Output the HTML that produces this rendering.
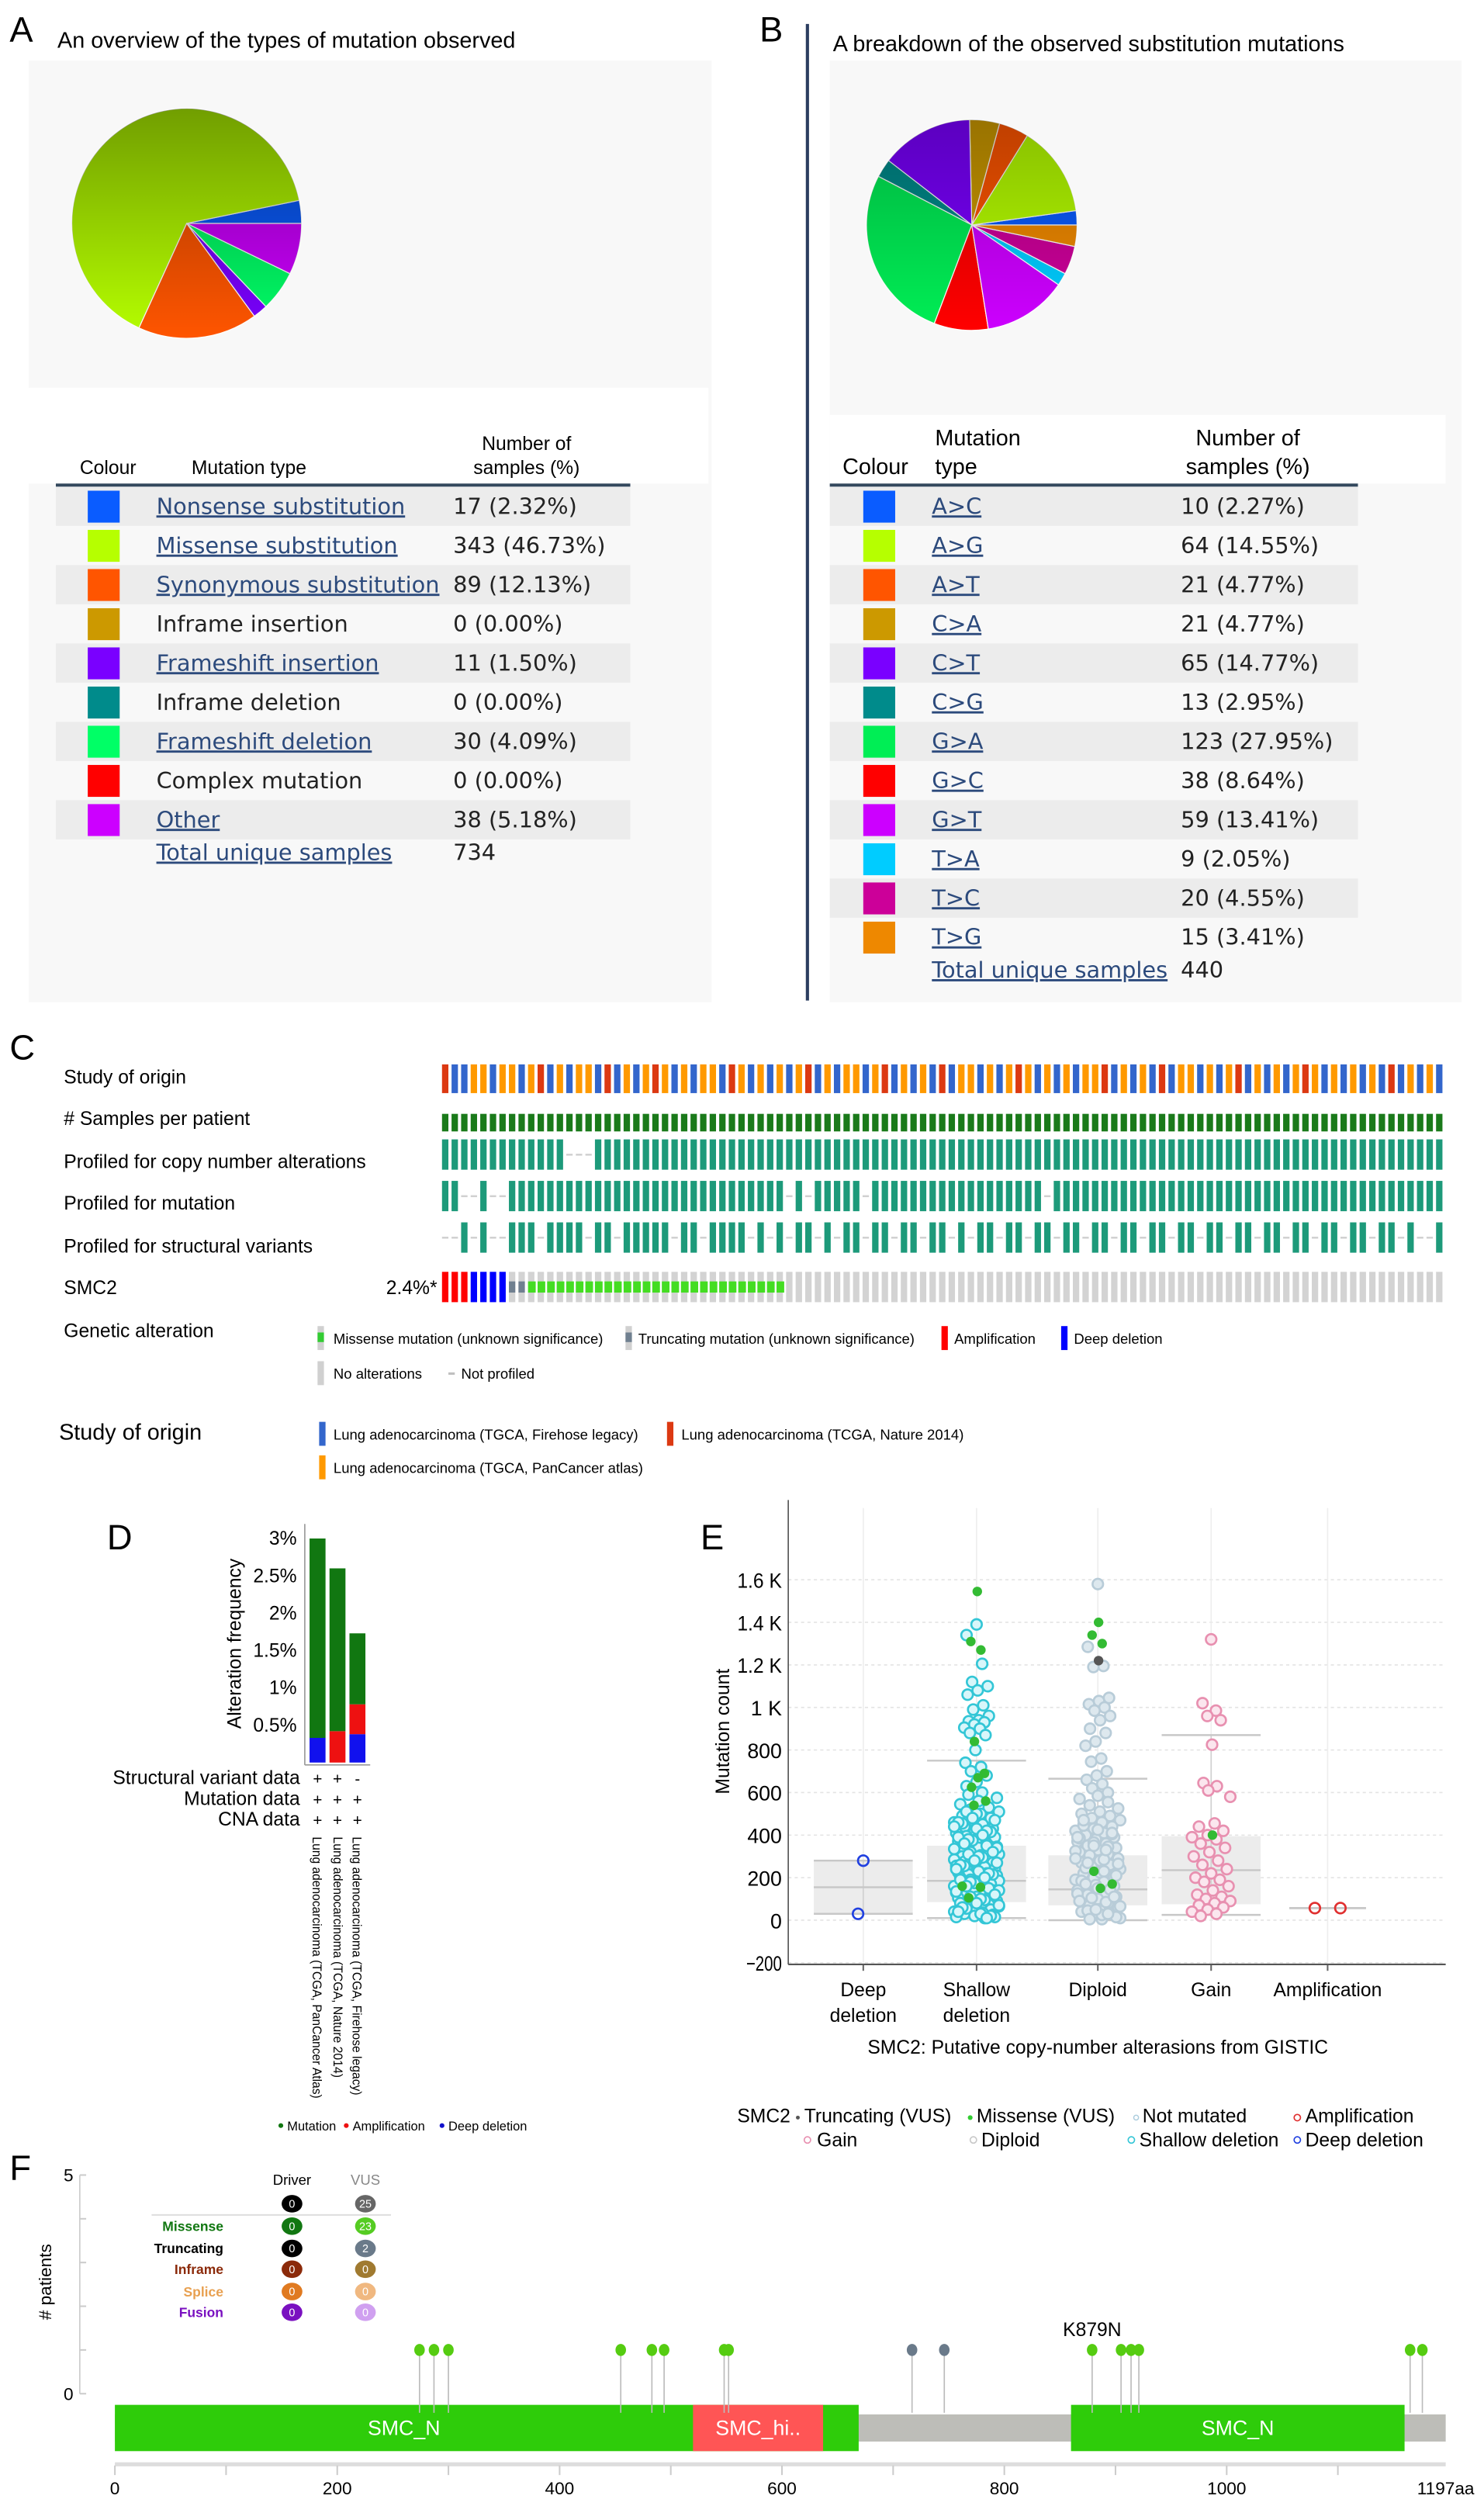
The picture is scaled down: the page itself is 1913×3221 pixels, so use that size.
<!DOCTYPE html>
<html><head><meta charset="utf-8"><style>
html,body{margin:0;padding:0;background:#fff;}
svg{display:block;}
text{font-family:"Liberation Sans",sans-serif;}
.tb{font-family:"DejaVu Sans","Liberation Sans",sans-serif;}
</style></head><body>
<svg id="fig" xmlns="http://www.w3.org/2000/svg" width="1913" height="3221" viewBox="0 0 930 1566" preserveAspectRatio="none">
<defs>
<linearGradient id="shadeA" x1="0" y1="0" x2="0" y2="1"><stop offset="0" stop-color="#000" stop-opacity="0.38"/><stop offset="1" stop-color="#000" stop-opacity="0"/></linearGradient>
<linearGradient id="shadeB" x1="0" y1="0" x2="0" y2="1"><stop offset="0" stop-color="#000" stop-opacity="0.25"/><stop offset="1" stop-color="#000" stop-opacity="0"/></linearGradient>
</defs>
<!-- Panel A -->
<g>
<rect x="18" y="38" width="428" height="590" fill="#f8f8f8"/>
<rect x="18" y="243" width="426" height="60" fill="#ffffff"/>
<text x="6" y="26" font-size="22">A</text>
<text x="36" y="30" font-size="14">An overview of the types of mutation observed</text>
<g id="pieA"></g>
<text x="50" y="297" font-size="12">Colour</text>
<text x="120" y="297" font-size="12">Mutation type</text>
<text x="330" y="282" font-size="12" text-anchor="middle">Number of</text>
<text x="330" y="297" font-size="12" text-anchor="middle">samples (%)</text>
<line x1="35" y1="304" x2="395" y2="304" stroke="#34495e" stroke-width="2"/>
<g id="tableA"></g>
</g>
<!-- Panel B -->
<g>
<rect x="520" y="38" width="396" height="590" fill="#f8f8f8"/>
<rect x="520" y="260" width="386" height="43" fill="#ffffff"/>
<line x1="506" y1="15" x2="506" y2="627" stroke="#2c3e60" stroke-width="2"/>
<text x="476" y="26" font-size="22">B</text>
<text x="522" y="32" font-size="14">A breakdown of the observed substitution mutations</text>
<g id="pieB"></g>
<text x="528" y="297" font-size="14">Colour</text>
<text x="586" y="279" font-size="14">Mutation</text>
<text x="586" y="297" font-size="14">type</text>
<text x="782" y="279" font-size="14" text-anchor="middle">Number of</text>
<text x="782" y="297" font-size="14" text-anchor="middle">samples (%)</text>
<line x1="520" y1="304" x2="851" y2="304" stroke="#34495e" stroke-width="2"/>
<g id="tableB"></g>
</g>
<!-- Panel C -->
<g>
<text x="6" y="664" font-size="22">C</text>
<text x="40" y="679" font-size="12">Study of origin</text>
<text x="40" y="705" font-size="12"># Samples per patient</text>
<text x="40" y="732" font-size="12">Profiled for copy number alterations</text>
<text x="40" y="758" font-size="12">Profiled for mutation</text>
<text x="40" y="785" font-size="12">Profiled for structural variants</text>
<text x="40" y="811" font-size="12">SMC2</text>
<text x="274" y="811" font-size="12" text-anchor="end">2.4%*</text>
<text x="40" y="838" font-size="12">Genetic alteration</text>
<g id="oncoprint"></g>
<g>
<rect x="199" y="831" width="4" height="15" fill="#d0d0d0"/><rect x="199" y="835" width="4" height="6" fill="#33cc33"/>
<text x="209" y="842" font-size="9">Missense mutation (unknown significance)</text>
<rect x="392" y="831" width="4" height="15" fill="#d0d0d0"/><rect x="392" y="835" width="4" height="6" fill="#708090"/>
<text x="400" y="842" font-size="9">Truncating mutation (unknown significance)</text>
<rect x="590" y="831" width="4" height="15" fill="#ff0000"/>
<text x="598" y="842" font-size="9">Amplification</text>
<rect x="665" y="831" width="4" height="15" fill="#0000ff"/>
<text x="673" y="842" font-size="9">Deep deletion</text>
<rect x="199" y="853" width="4" height="15" fill="#d0d0d0"/>
<text x="209" y="864" font-size="9">No alterations</text>
<rect x="281" y="860" width="4" height="1.5" fill="#c0c0c0"/>
<text x="289" y="864" font-size="9">Not profiled</text>
</g>
<text x="37" y="902" font-size="14">Study of origin</text>
<rect x="200" y="891" width="4" height="15" fill="#3366cc"/>
<text x="209" y="902" font-size="9">Lung adenocarcinoma (TGCA, Firehose legacy)</text>
<rect x="418" y="891" width="4" height="15" fill="#dc3912"/>
<text x="427" y="902" font-size="9">Lung adenocarcinoma (TCGA, Nature 2014)</text>
<rect x="200" y="912" width="4" height="15" fill="#ff9900"/>
<text x="209" y="923" font-size="9">Lung adenocarcinoma (TGCA, PanCancer atlas)</text>
</g>
<!-- Panel D -->
<g>
<text x="67" y="971" font-size="22">D</text>
<g id="chartD"></g>
<text transform="translate(151,1030) rotate(-90)" font-size="12" text-anchor="middle">Alteration frequency</text>
<text x="188" y="1118" font-size="12" text-anchor="end">Structural variant data</text>
<text x="188" y="1131" font-size="12" text-anchor="end">Mutation data</text>
<text x="188" y="1144" font-size="12" text-anchor="end">CNA data</text>
<text transform="translate(196,1151) rotate(90)" font-size="8" textLength="164" lengthAdjust="spacingAndGlyphs">Lung adenocarcinoma (TCGA, PanCancer Atlas)</text>
<text transform="translate(209,1151) rotate(90)" font-size="8" textLength="151" lengthAdjust="spacingAndGlyphs">Lung adenocarcinoma (TCGA, Nature 2014)</text>
<text transform="translate(221,1151) rotate(90)" font-size="8" textLength="162" lengthAdjust="spacingAndGlyphs">Lung adenocarcinoma (TCGA, Firehose legacy)</text>
<g>
<circle cx="176" cy="1332" r="1.5" fill="#117711"/><text x="180" y="1335" font-size="8">Mutation</text>
<circle cx="217" cy="1332" r="1.5" fill="#ee1111"/><text x="221" y="1335" font-size="8">Amplification</text>
<circle cx="277" cy="1332" r="1.5" fill="#1111cc"/><text x="281" y="1335" font-size="8">Deep deletion</text>
</g>
</g>
<!-- Panel E -->
<g>
<text x="439" y="971" font-size="22">E</text>
<g id="chartE"></g>
<text transform="translate(457,1085) rotate(-90)" font-size="12" text-anchor="middle">Mutation count</text>
<text x="688" y="1287" font-size="12" text-anchor="middle">SMC2: Putative copy-number alterasions from GISTIC</text>
<g font-size="12">
<text x="462" y="1330">SMC2</text>
<circle cx="500" cy="1327" r="1.2" fill="#555"/><text x="504" y="1330">Truncating (VUS)</text>
<circle cx="608" cy="1327" r="1.5" fill="#33cc33"/><text x="612" y="1330">Missense (VUS)</text>
<circle cx="712" cy="1327" r="1.5" fill="none" stroke="#aaccdd" stroke-width="0.7"/><text x="716" y="1330">Not mutated</text>
<circle cx="813" cy="1327" r="2" fill="none" stroke="#e03030" stroke-width="0.8"/><text x="818" y="1330">Amplification</text>
<circle cx="506" cy="1341" r="2" fill="none" stroke="#e890b0" stroke-width="0.8"/><text x="512" y="1345">Gain</text>
<circle cx="610" cy="1341" r="2" fill="none" stroke="#c8c8c8" stroke-width="0.8"/><text x="615" y="1345">Diploid</text>
<circle cx="709" cy="1341" r="2" fill="none" stroke="#33c6d6" stroke-width="0.8"/><text x="714" y="1345">Shallow deletion</text>
<circle cx="813" cy="1341" r="2" fill="none" stroke="#2040e0" stroke-width="0.8"/><text x="818" y="1345">Deep deletion</text>
</g>
</g>
<!-- Panel F -->
<g>
<text x="6" y="1366" font-size="22">F</text>
<g id="chartF"></g>
<text transform="translate(32,1430) rotate(-90)" font-size="11" text-anchor="middle"># patients</text>
</g>
</svg>
<script>
// ---------- Panel A data ----------
const typesA = ["Nonsense substitution","Missense substitution","Synonymous substitution","Inframe insertion","Frameshift insertion","Inframe deletion","Frameshift deletion","Complex mutation","Other"];
const countsA = [17,343,89,0,11,0,30,0,38];
const pctA = ["2.32%","46.73%","12.13%","0.00%","1.50%","0.00%","4.09%","0.00%","5.18%"];
const colorsA = ["#0a5cff","#b6ff00","#ff5500","#cc9900","#7a00ff","#008b8b","#00ff66","#ff0000","#cc00ff"];
const linkA = [true,true,true,false,true,false,true,false,true];
const totalA = 734;
// ---------- Panel B data ----------
const typesB = ["A>C","A>G","A>T","C>A","C>T","C>G","G>A","G>C","G>T","T>A","T>C","T>G"];
const countsB = [10,64,21,21,65,13,123,38,59,9,20,15];
const pctB = ["2.27%","14.55%","4.77%","4.77%","14.77%","2.95%","27.95%","8.64%","13.41%","2.05%","4.55%","3.41%"];
const colorsB = ["#0a5cff","#b6ff00","#ff5500","#cc9900","#7a00ff","#008b8b","#00ee55","#ff0000","#cc00ff","#00ccff","#cc0099","#ee8800"];
const totalB = 440;
// ---------- Panel D data ----------
const dStudies = ["PanCancer Atlas","Nature 2014","Firehose legacy"];
const dDeep = [0.33,0,0.38];
const dAmp = [0,0.42,0.40];
const dMutation = [2.67,2.18,0.95];
const dTicks = [0.5,1,1.5,2,2.5,3];
const dSV = ["+","+","-"];
// ---------- Panel E data ----------
const eCats = ["Deep\ndeletion","Shallow\ndeletion","Diploid","Gain","Amplification"];
const eTicks = [-200,0,200,400,600,800,1000,1200,1400,1600];
const eTickLabels = ["\u2212200","0","200","400","600","800","1 K","1.2 K","1.4 K","1.6 K"];
const eQ1 = [30,85,70,75,57];
const eMed = [155,185,145,235,57];
const eQ3 = [280,350,305,395,57];
const eLo = [30,10,0,25,57];
const eHi = [280,750,665,870,57];
const deepVals = [280,30];
const shallowVals = [1390,1340,1205,1120,1100,1080,1060,1010,990,960,940,935,930,920,905,900,880,870,800,740,720,700,680,650,630,600,590,575,560,545,530,520,510,500,490,480,470,460,450,440,430,420,410,400,395,390,380,370,360,350,345,340,335,330,320,310,305,300,295,290,285,280,275,270,260,255,250,245,240,230,225,220,215,210,205,200,195,190,185,180,175,170,165,160,150,145,140,135,130,125,120,115,110,105,100,95,90,85,80,75,70,65,60,55,50,45,40,35,30,25,20,15,10,510,470,430,390,350,310,270,230,190,150,110,70,30,455,415,375,335,295,255,215,175,135,95,55,15,500,460,420,380,340,300,260,220,180,140,100,60,20,480,440,400,360,320,280,240,200,160,120,80,40,10];
const shallowMis = [1545,1310,1270,840,690,670,625,560,540,160,155,105];
const diploidVals = [1580,1285,1195,1190,1045,1030,1015,1000,985,960,940,900,880,840,820,760,745,700,680,660,640,620,600,585,570,555,540,525,510,500,490,480,470,460,450,440,430,420,410,400,390,380,370,360,350,340,330,320,310,300,290,280,270,260,250,240,230,220,210,200,190,180,170,160,150,140,130,120,110,100,90,80,70,60,50,40,30,20,10,5,445,405,365,325,285,245,205,165,125,85,45,15,425,385,345,305,265,225,185,145,105,65,25,470,410,350,290,230,170,110,50,390,330,270,210,150,90,30,5];
const diploidMis = [1400,1340,1300,230,170,150];
const diploidTrunc = [1220];
const gainVals = [1320,1020,985,960,940,825,645,630,610,580,455,440,420,400,390,380,360,340,320,300,280,260,240,220,200,190,180,160,140,120,110,100,90,80,70,60,50,40,30,20];
const gainMis = [400];
const ampVals = [57,57];
// ---------- Panel F data ----------
const fPositions = [274,287,300,455,483,494,548,552,717,746,879,905,914,921,1165,1176];
const fTypes = ["m","m","m","m","m","m","m","m","t","t","m","m","m","m","m","m"];
const fCounts = [1,1,1,1,1,1,1,1,1,1,1,1,1,1,1,1];
const fDomainStart = [0,520,860];
const fDomainEnd = [669,637,1160];
const fDomainName = ["SMC_N","SMC_hi..","SMC_N"];
const fTicks = [0,200,400,600,800,1000];
const protLen = 1197;
// ---------- Panel C data ----------
const studyPattern = "RBBOOBOOBORBOBOOBRBOBOROBOBOOBROBOBOBORBOBOOBORBOBOBRBOOBOBOROBOBOBOORBOBOBRBOOBOBORBOBOBOROBOBOBOBRBOBOBO";
const cnaMissing = [13,14,15];
const mutProfiledRanges = [[0,1],[4,4],[7,35],[37,37],[39,43],[45,62],[64,104]];
const svProfiled = [2,4,7,8,9,11,12,13,14,16,17,19,20,21,22,23,25,26,28,29,30,31,33,35,37,38,40,42,43,45,46,48,49,51,52,54,56,57,59,60,62,63,65,66,68,69,71,72,74,75,77,78,80,81,83,84,86,87,89,90,92,93,95,96,98,99,101,104];
const smc2Alt = {amp:[0,1,2],deep:[3,4,5,6],trunc:[7,8],mis:[9,35]};

const NS="http://www.w3.org/2000/svg";
function mk(tag,attrs,parent){const e=document.createElementNS(NS,tag);for(const k in attrs)e.setAttribute(k,attrs[k]);parent.appendChild(e);return e;}

function drawPie(g,cx,cy,r,counts,colors,shade,label){
  const tot=counts.reduce((a,b)=>a+b,0);let a=0;
  counts.forEach((c,i)=>{if(c<=0)return;const a2=a+c/tot*2*Math.PI;
    const x1=cx+r*Math.cos(a),y1=cy-r*Math.sin(a),x2=cx+r*Math.cos(a2),y2=cy-r*Math.sin(a2);
    const large=(a2-a)>Math.PI?1:0;
    const p=mk('path',{d:`M${cx},${cy}L${x1},${y1}A${r},${r} 0 ${large} 0 ${x2},${y2}Z`,fill:colors[i],stroke:'#fff','stroke-width':0.6},g);
    
    
    a=a2;});
  const o=mk('circle',{cx:cx,cy:cy,r:r,fill:shade,'pointer-events':'none'},g);
  
  
}
drawPie(document.getElementById('pieA'),117,140,72,countsA,colorsA,'url(#shadeA)','pie-a');
drawPie(document.getElementById('pieB'),609,141,66,countsB,colorsB,'url(#shadeB)','pie-b');

function drawTable(g,types,counts,pcts,colors,links,x0,x1,sw,tx,vx,total,fs){
  const y0=305,rh=24.55;
  types.forEach((t,i)=>{const y=y0+i*rh;
    if(i%2===0){const bg=mk('rect',{x:x0,y:y,width:x1-x0,height:rh,fill:'#ececec'},g);
      
      }
    const s=mk('rect',{x:sw,y:y+2.5,width:20,height:20,fill:colors[i]},g);
    
    
    const tt=mk('text',{x:tx,y:y+17,'font-size':fs,class:'tb',fill:links[i]?'#2c4a7c':'#222','text-decoration':links[i]?'underline':'none'},g);
    tt.textContent=t;
    
    
    const v=mk('text',{x:vx,y:y+17,'font-size':fs,class:'tb',fill:'#222'},g);
    v.textContent=counts[i]+' ('+pcts[i]+')';
    
    });
  const yt=y0+types.length*rh;
  const tl=mk('text',{x:tx,y:yt+13,'font-size':fs,class:'tb',fill:'#2c4a7c','text-decoration':'underline'},g);
  tl.textContent='Total unique samples';
  
  
  const tv=mk('text',{x:vx,y:yt+13,'font-size':fs,class:'tb',fill:'#222'},g);
  tv.textContent=String(total);
  
  
}
drawTable(document.getElementById('tableA'),typesA,countsA,pctA,colorsA,linkA,35,395,55,98,284,totalA,14);
drawTable(document.getElementById('tableB'),typesB,countsB,pctB,colorsB,typesB.map(()=>true),520,851,541,584,740,totalB,14);

(function(){const g=document.getElementById('oncoprint');const N=105,x0=277,cw=5.99,bw=4;
  const sc={R:'#dc3912',B:'#3366cc',O:'#ff9900'};
  const mutSet=new Set();mutProfiledRanges.forEach(r=>{for(let k=r[0];k<=r[1];k++)mutSet.add(k);});
  const svSet=new Set(svProfiled);
  for(let i=0;i<N;i++){const x=x0+i*cw;
    let e=mk('rect',{x:x,y:667,width:bw,height:18,fill:sc[studyPattern[i%studyPattern.length]]},g);
    
    
    e=mk('rect',{x:x,y:698,width:bw,height:11,fill:'#1a7a1a'},g);
    
    
    const tracks=[[714,!cnaMissing.includes(i)],[740,mutSet.has(i)],[766,svSet.has(i)]];
    tracks.forEach(tr=>{const c=tr[1]?mk('rect',{x:x,y:tr[0],width:bw,height:19,fill:'#1d9a7a'},g):mk('rect',{x:x,y:tr[0]+9,width:bw,height:1.2,fill:'#d0d0d0'},g);
      
      });
    let col='#d3d3d3';
    if(smc2Alt.amp.includes(i))col='#ff0000';else if(smc2Alt.deep.includes(i))col='#0000ff';
    e=mk('rect',{x:x,y:797,width:bw,height:19,fill:col},g);
    
    
    if(smc2Alt.trunc.includes(i)){const m=mk('rect',{x:x,y:803,width:bw,height:7,fill:'#708090'},g);
      
      }
    if(i>=smc2Alt.mis[0]&&i<=smc2Alt.mis[1]){const m=mk('rect',{x:x,y:803,width:bw+0.8,height:7,fill:'#44dd22'},g);
      
      }
  }})();

(function(){const g=document.getElementById('chartD');const y0=1104.5,ppu=46.8;const yS=v=>y0-v*ppu;
  const ax=mk('line',{x1:191,y1:955,x2:191,y2:1106,stroke:'#999','stroke-width':0.8},g);
  
  
  const bx=mk('line',{x1:191,y1:1106,x2:232,y2:1106,stroke:'#999','stroke-width':0.8},g);
  
  
  dTicks.forEach(t=>{const tx=mk('text',{x:186,y:yS(t)+4,'font-size':12,'text-anchor':'end'},g);tx.textContent=t+'%';
    
    });
  dStudies.forEach((s,i)=>{const x=194+i*12.5;let base=0;
    [[dDeep[i],'#1111ee'],[dAmp[i],'#ee1111'],[dMutation[i],'#117711']].forEach(p=>{if(p[0]<=0)return;
      const r=mk('rect',{x:x,y:yS(base+p[0]),width:10,height:p[0]*ppu,fill:p[1]},g);
      
      
      base+=p[0];});
    [dSV[i],'+','+'].forEach((m,k)=>{const t=mk('text',{x:x+5,y:1118+k*13,'font-size':10,'text-anchor':'middle'},g);t.textContent=m;
      
      });
  });})();

(function(){const g=document.getElementById('chartE');const y0=1203.3,ppu=0.13333;const yS=v=>y0-v*ppu;
  const cx=[541,612,688,759,832];
  eTicks.forEach((t,i)=>{const gl=mk('line',{x1:494,y1:yS(t),x2:906,y2:yS(t),stroke:'#e4e4e4','stroke-dasharray':'2,2','stroke-width':0.8},g);
    
    
    const tl=mk('text',{x:490,y:yS(t)+5,'font-size':13,'text-anchor':'end',textLength:eTickLabels[i].length>3?String(eTickLabels[i].length*5.6):'',lengthAdjust:'spacingAndGlyphs'},g);tl.textContent=eTickLabels[i];
    if(eTickLabels[i].length<=3){tl.removeAttribute('textLength');}
    
    });
  cx.forEach((x,i)=>{const vl=mk('line',{x1:x,y1:945,x2:x,y2:1230,stroke:'#eeeeee','stroke-width':0.8},g);
    
    
    const lines=eCats[i].split('\n');lines.forEach((l,k)=>{const t=mk('text',{x:x,y:1251+k*16,'font-size':12,'text-anchor':'middle'},g);t.textContent=l;
      
      });
    const tk=mk('line',{x1:x,y1:1231,x2:x,y2:1235,stroke:'#666'},g);
    
    
    const hw=i===4?24:31;
    if(i<4){const b=mk('rect',{x:x-hw,y:yS(eQ3[i]),width:2*hw,height:(eQ3[i]-eQ1[i])*ppu,fill:'#ececec'},g);
      
      
      const w=mk('line',{x1:x,y1:yS(eHi[i]),x2:x,y2:yS(eLo[i]),stroke:'#d0d0d0','stroke-width':0.8},g);
      
      }
    [eLo[i],eMed[i],eHi[i]].forEach(v=>{const l=mk('line',{x1:x-hw,y1:yS(v),x2:x+hw,y2:yS(v),stroke:'#c8c8c8','stroke-width':1.2},g);
      
      });
  });
  const ya=mk('line',{x1:494,y1:940,x2:494,y2:1231,stroke:'#555','stroke-width':0.8},g);
  
  
  const xa=mk('line',{x1:494,y1:1231,x2:906,y2:1231,stroke:'#555','stroke-width':1},g);
  
  
  function jit(i,v,w){const d=v<600?w:w*0.55;return (((i*37+11)%23)/22-0.5)*2*d;}
  function pts(vals,ci,stroke,fill,w,name){vals.forEach((v,i)=>{const c=mk('circle',{cx:cx[ci]+jit(i,v,w),cy:yS(v),r:3.3,fill:fill,stroke:stroke,'stroke-width':1.3},g);
    
    });}
  pts(deepVals,0,'#2040e0','none',4,'deep-deletion-point');
  pts(shallowVals,1,'#33c6d6','#d8f6fa',14,'shallow-deletion-point');
  pts(diploidVals,2,'#b8ccd8','#dde8ee',14,'diploid-point');
  pts(gainVals,3,'#e890b0','#fbe6ee',12,'gain-point');
  ampVals.forEach((v,i)=>{const c=mk('circle',{cx:cx[4]+(i===0?-8:8),cy:yS(v),r:3.3,fill:'none',stroke:'#e03030','stroke-width':1.3},g);
    
    });
  function mis(vals,ci,col,name){vals.forEach((v,i)=>{const c=mk('circle',{cx:cx[ci]+jit(i+5,v,9),cy:yS(v),r:3,fill:col},g);
    
    });}
  mis(shallowMis,1,'#33bb33','missense-point');
  mis(diploidMis,2,'#33bb33','missense-point');
  mis(diploidTrunc,2,'#555555','truncating-point');
  mis(gainMis,3,'#33bb33','missense-point');
})();

(function(){const g=document.getElementById('chartF');const xS=a=>72+a*(834/protLen);const yS=c=>1500-c*27.4;
  const ya=mk('line',{x1:50,y1:1363,x2:50,y2:1500,stroke:'#ccc','stroke-width':0.8},g);
  
  
  [0,1,2,3,4,5].forEach(c=>{const t=mk('line',{x1:50,y1:yS(c),x2:54,y2:yS(c),stroke:'#ccc'},g);
    
    });
  [[0,'0'],[5,'5']].forEach(p=>{const t=mk('text',{x:46,y:yS(p[0])+4,'font-size':11,'text-anchor':'end'},g);t.textContent=p[1];
    
    });
  const lg=[['Driver',183],['VUS',229]];lg.forEach(l=>{const t=mk('text',{x:l[1],y:1369,'font-size':9,'text-anchor':'middle',fill:l[0]==='VUS'?'#888':'#000'},g);t.textContent=l[0];
    
    });
  const sep=mk('line',{x1:95,y1:1388,x2:245,y2:1388,stroke:'#ddd'},g);
  
  
  const rows=[['',1381,'#000','#666','0','25'],['Missense',1395,'#117711','#55cc22','0','23'],['Truncating',1409,'#000','#6a7a8a','0','2'],['Inframe',1422,'#8b2a0a','#a07a30','0','0'],['Splice',1436,'#e07a20','#f0b880','0','0'],['Fusion',1449,'#7a10c0','#d0a0f0','0','0']];
  const lab=['#117711','#000','#8b2a0a','#e8a050','#7a10c0'];
  rows.forEach((r,i)=>{if(r[0]){const t=mk('text',{x:140,y:r[1]+3,'font-size':8.5,'font-weight':'bold','text-anchor':'end',fill:lab[i-1]},g);t.textContent=r[0];
      
      }
    [[183,r[2],r[4]],[229,r[3],r[5]]].forEach(b=>{const e=mk('ellipse',{cx:b[0],cy:r[1],rx:6.5,ry:5.5,fill:b[1]},g);
      
      
      const t=mk('text',{x:b[0],y:r[1]+2.5,'font-size':7,'text-anchor':'middle',fill:'#fff'},g);t.textContent=b[2];
      
      });});
  const bb=mk('rect',{x:xS(0),y:1513,width:xS(protLen)-xS(0),height:17,fill:'#bdbdb8'},g);
  
  
  fDomainName.forEach((n,i)=>{const x1=xS(fDomainStart[i]),x2=xS(fDomainEnd[i]);
    const d=mk('rect',{x:x1,y:1507,width:x2-x1,height:29,fill:n==='SMC_N'?'#2ecc0a':'#ff5555'},g);
    
    });
  [[(xS(0)+xS(520))/2,'SMC_N'],[(xS(520)+xS(637))/2,'SMC_hi..'],[(xS(860)+xS(1160))/2,'SMC_N']].forEach(p=>{const t=mk('text',{x:p[0],y:1526,'font-size':13,'text-anchor':'middle',fill:'#fff'},g);t.textContent=p[1];
    
    });
  fPositions.forEach((a,i)=>{const x=xS(a),y=yS(fCounts[i]);
    const s=mk('line',{x1:x,y1:y,x2:x,y2:1512,stroke:'#bbb','stroke-width':0.8},g);
    
    
    const h=mk('ellipse',{cx:x,cy:y,rx:3.3,ry:3.8,fill:fTypes[i]==='m'?'#55cc11':'#6a7a8a'},g);
    
    });
  const k=mk('text',{x:xS(879),y:1464,'font-size':12,'text-anchor':'middle'},g);k.textContent='K879N';
  
  
  const xa=mk('rect',{x:xS(0),y:1543,width:xS(protLen)-xS(0),height:2.5,fill:'#ddd'},g);
  
  
  for(let a=0;a<=1100;a+=100){const t=mk('line',{x1:xS(a),y1:1545,x2:xS(a),y2:1551,stroke:'#ccc'},g);
    
    }
  fTicks.concat([protLen]).forEach(a=>{const t=mk('text',{x:xS(a),y:1563,'font-size':11,'text-anchor':'middle'},g);t.textContent=a===protLen?'1197aa':String(a);
    
    });
})();
</script>
</body></html>
